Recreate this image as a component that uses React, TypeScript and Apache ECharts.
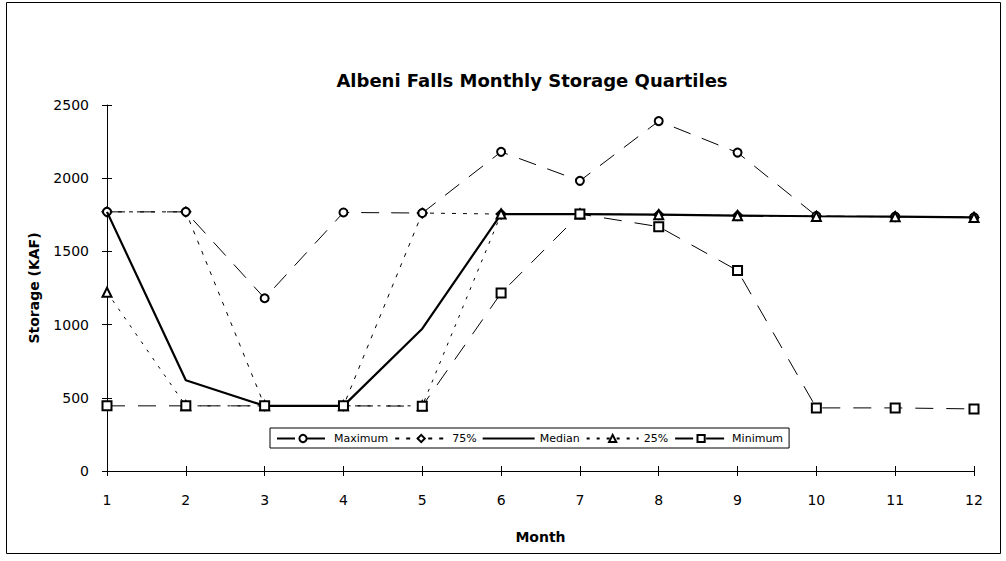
import React, { useEffect, useRef } from "react";
import * as echarts from "echarts";

const months = [1, 2, 3, 4, 5, 6, 7, 8, 9, 10, 11, 12];
const maximum = [1770, 1770, 1180, 1766, 1762, 2180, 1982, 2390, 2175, 1742, 1738, 1733];
const p75 = [1770, 1770, 445, 445, 1762, 1755, 1755, 1751, 1745, 1740, 1737, 1732];
const median = [1770, 620, 445, 445, 972, 1755, 1755, 1751, 1745, 1740, 1737, 1732];
const p25 = [1221, 445, 445, 445, 445, 1755, 1755, 1751, 1744, 1739, 1737, 1732];
const minimum = [445, 445, 445, 445, 443, 1215, 1755, 1669, 1369, 431, 431, 424];
const legendNames = ["Maximum", "75%", "Median", "25%", "Minimum"];

const FONT = "'DejaVu Sans', sans-serif";

const pairs = (vals: number[]) => months.map((m, i) => [m, vals[i]]);

export default function App() {
  const ref = useRef<HTMLDivElement>(null);
  useEffect(() => {
    if (!ref.current) return;
    const chart = echarts.init(ref.current, null, { renderer: "svg" });
    const gridPos = { left: 107, right: 32, top: 105, bottom: 90 };
    const markerStyle = { color: "#fff", borderColor: "#000", borderWidth: 2 };
    chart.setOption({
      animation: false,
      backgroundColor: "#fff",
      title: {
        text: "Albeni Falls Monthly Storage Quartiles",
        left: 527,
        top: 66,
        textAlign: "center",
        textStyle: { fontFamily: FONT, fontWeight: "bold", fontSize: 18, color: "#000" },
      },
      graphic: [
        {
          type: "rect",
          shape: { x: 6.5, y: 2.5, width: 994, height: 551 },
          style: { fill: "none", stroke: "#000", lineWidth: 1 },
          silent: true,
        },
      ],
      legend: {
        left: 270,
        top: 428,
        orient: "horizontal",
        borderColor: "#000",
        borderWidth: 1,
        padding: [5, 6, 4, 6],
        itemGap: 6,
        itemWidth: 52,
        itemHeight: 9,
        textStyle: { fontFamily: FONT, fontSize: 11, color: "#000" },
        data: legendNames.map((n) =>
          n === "Median" ? { name: n, icon: "path://M0,0 L52,0 L52,2 L0,2 Z" } : { name: n }
        ),
      },
      grid: [{ ...gridPos }, { ...gridPos }],
      xAxis: [
        {
          type: "value",
          gridIndex: 0,
          min: 1,
          max: 12,
          interval: 1,
          name: "Month",
          nameLocation: "middle",
          nameGap: 59,
          nameTextStyle: { fontFamily: FONT, fontWeight: "bold", fontSize: 14, color: "#000" },
          axisLine: { lineStyle: { color: "#000", width: 1 } },
          axisTick: { length: 5, lineStyle: { color: "#000" } },
          axisLabel: { fontFamily: FONT, fontSize: 14, color: "#000", margin: 22 },
          splitLine: { show: false },
        },
        {
          type: "value",
          gridIndex: 1,
          min: 1,
          max: 12,
          interval: 1,
          axisLine: { show: false },
          axisTick: { inside: true, length: 5, lineStyle: { color: "#000" } },
          axisLabel: { show: false },
          splitLine: { show: false },
        },
      ],
      yAxis: [
        {
          type: "value",
          gridIndex: 0,
          min: 0,
          max: 2500,
          interval: 500,
          name: "Storage (KAF)",
          nameLocation: "middle",
          nameGap: 66,
          nameTextStyle: { fontFamily: FONT, fontWeight: "bold", fontSize: 14, color: "#000" },
          axisLine: { show: true, lineStyle: { color: "#000", width: 1 } },
          axisTick: { show: true, length: 5, lineStyle: { color: "#000" } },
          axisLabel: {
            fontFamily: FONT,
            fontSize: 14,
            color: "#000",
            margin: 18,
            formatter: (v: number) => String(v),
          },
          splitLine: { show: false },
        },
        {
          type: "value",
          gridIndex: 1,
          min: 0,
          max: 2500,
          interval: 500,
          axisLine: { show: false },
          axisTick: { show: true, inside: true, length: 5, lineStyle: { color: "#000" } },
          axisLabel: { show: false },
          splitLine: { show: false },
        },
      ],
      series: [
        {
          name: "Maximum",
          type: "line",
          z: 3,
          data: pairs(maximum),
          symbol: "circle",
          symbolSize: 8,
          itemStyle: markerStyle,
          lineStyle: { color: "#000", width: 1, type: [18, 12] },
        },
        {
          name: "75%",
          type: "line",
          z: 2,
          data: pairs(p75),
          symbol: "diamond",
          symbolSize: 9,
          itemStyle: markerStyle,
          lineStyle: { color: "#000", width: 1, type: [4, 7] },
        },
        {
          name: "Median",
          type: "line",
          z: 4,
          data: pairs(median),
          symbol: "none",
          itemStyle: { color: "#000" },
          lineStyle: { color: "#000", width: 2.2 },
        },
        {
          name: "25%",
          type: "line",
          z: 5,
          data: pairs(p25),
          symbol: "triangle",
          symbolSize: 9,
          itemStyle: markerStyle,
          lineStyle: { color: "#000", width: 1, type: [3, 7] },
        },
        {
          name: "Minimum",
          type: "line",
          z: 6,
          data: pairs(minimum),
          symbol: "rect",
          symbolSize: 9,
          itemStyle: markerStyle,
          lineStyle: { color: "#000", width: 1, type: [18, 13] },
        },
      ],
    });
    return () => chart.dispose();
  }, []);
  return (
    <div
      ref={ref}
      style={{ position: "fixed", left: 0, top: 0, width: 1006, height: 561 }}
    />
  );
}
